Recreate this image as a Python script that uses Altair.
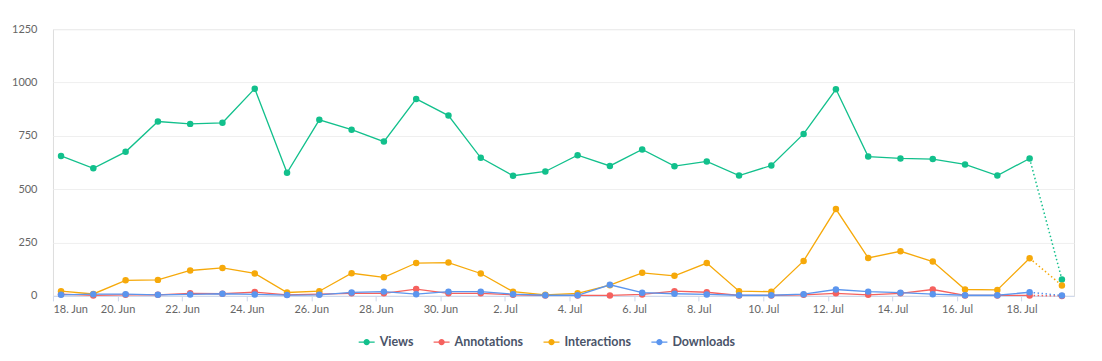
import altair as alt
import pandas as pd

# ---- data ----
dates = [
    "2023-06-18", "2023-06-19", "2023-06-20", "2023-06-21", "2023-06-22", "2023-06-23",
    "2023-06-24", "2023-06-25", "2023-06-26", "2023-06-27", "2023-06-28", "2023-06-29",
    "2023-06-30", "2023-07-01", "2023-07-02", "2023-07-03", "2023-07-04", "2023-07-05",
    "2023-07-06", "2023-07-07", "2023-07-08", "2023-07-09", "2023-07-10", "2023-07-11",
    "2023-07-12", "2023-07-13", "2023-07-14", "2023-07-15", "2023-07-16", "2023-07-17",
    "2023-07-18", "2023-07-19",
]
views = [656, 598, 675, 817, 806, 811, 971, 577, 825, 779, 723, 923, 845,
         647, 563, 583, 659, 609, 686, 608, 630, 564, 611, 759, 968, 653, 644, 641, 616, 564, 644, 77]
annotations = [8, 2, 5, 5, 12, 10, 18, 5, 8, 12, 12, 32, 12,
               12, 5, 2, 2, 2, 7, 22, 17, 2, 2, 5, 12, 5, 12, 30, 2, 2, 2, 0]
interactions = [22, 9, 73, 75, 119, 131, 105, 16, 22, 106, 87, 154, 156,
                105, 20, 5, 12, 50, 108, 94, 154, 22, 20, 164, 407, 178, 209, 161, 30, 28, 176, 49]
downloads = [5, 8, 8, 5, 7, 10, 7, 4, 5, 16, 20, 8, 20,
             20, 8, 3, 3, 52, 15, 10, 7, 3, 3, 8, 30, 20, 15, 8, 3, 3, 17, 2]

series_names = ["Views", "Annotations", "Interactions", "Downloads"]
series_colors = ["#12c08c", "#f5615e", "#f6a90a", "#5b95ee"]
y_ticks = [0, 250, 500, 750, 1000, 1250]
x_tick_dates = [
    "2023-06-18", "2023-06-20", "2023-06-22", "2023-06-24", "2023-06-26", "2023-06-28",
    "2023-06-30", "2023-07-02", "2023-07-04", "2023-07-06", "2023-07-08", "2023-07-10",
    "2023-07-12", "2023-07-14", "2023-07-16", "2023-07-18",
]

rows = []
for name, vals in zip(series_names, [views, annotations, interactions, downloads]):
    for i, (d, v) in enumerate(zip(dates, vals)):
        rows.append({"date": d + "T06:00:00", "series": name, "value": v, "idx": i})
df = pd.DataFrame(rows)
last = len(dates) - 1


def dt(s, hours=0):
    y, m, d = (int(p) for p in s.split("-"))
    return alt.DateTime(year=y, month=m, date=d, hours=hours)


x_enc = alt.X(
    "date:T",
    scale=alt.Scale(domain=[dt("2023-06-18"), dt("2023-07-19", 15)]),
    axis=alt.Axis(
        values=[dt(s) for s in x_tick_dates],
        format="%-d. %b",
        title=None,
        grid=False,
        domainColor="#ccd6eb",
        tickColor="#ccd6eb",
        tickSize=5,
        labelPadding=3,
        labelColor="#666666",
        labelFont="Lato",
        labelFontSize=11,
        labelAngle=0,
    ),
)
y_enc = alt.Y(
    "value:Q",
    scale=alt.Scale(domain=[0, 1250], nice=False),
    axis=alt.Axis(
        values=y_ticks,
        format="d",
        title=None,
        domain=False,
        ticks=False,
        grid=True,
        gridColor="#efefef",
        labelPadding=16,
        labelColor="#666666",
        labelFont="Lato",
        labelFontSize=11,
    ),
)
sym_path = ("M-1,-0.09 L-0.38,-0.09 L-0.38,0.09 L-1,0.09 Z "
            "M0.38,-0.09 L1,-0.09 L1,0.09 L0.38,0.09 Z "
            "M0.4,0 A0.4,0.4 0 1,1 -0.4,0 A0.4,0.4 0 1,1 0.4,0 Z")
color_enc = alt.Color(
    "series:N",
    scale=alt.Scale(domain=series_names, range=series_colors),
    sort=series_names,
    legend=alt.Legend(
        title=None,
        orient="none",
        legendX=306,
        legendY=305,
        direction="horizontal",
        columns=4,
        columnPadding=20,
        symbolType=sym_path,
        symbolSize=256,
        symbolStrokeWidth=0,
        symbolOpacity=1,
        labelOffset=5,
        labelLimit=300,
        labelFont="Lato",
        labelFontSize=12.5,
        labelFontWeight="bold",
        labelColor="#4a5469",
    ),
)

base = alt.Chart(df).encode(x=x_enc, y=y_enc, color=color_enc, detail="series:N")

solid = base.transform_filter(alt.datum.idx <= last - 1).mark_line(strokeWidth=1.3)
dotted = base.transform_filter(alt.datum.idx >= last - 1).mark_line(
    strokeWidth=1.5, strokeDash=[1.5, 2.5])
points = base.mark_point(filled=True, size=42, opacity=1)

chart = alt.layer(solid, dotted, points).properties(
    width=1022,
    height=267,
    autosize=alt.AutoSizeParams(type="none"),
    padding={"left": 45, "top": 21, "right": 20, "bottom": 50},
).configure_view(stroke=None).configure(font="Lato")

chart.save("out.html", embed_options={"renderer": "svg", "actions": False})
